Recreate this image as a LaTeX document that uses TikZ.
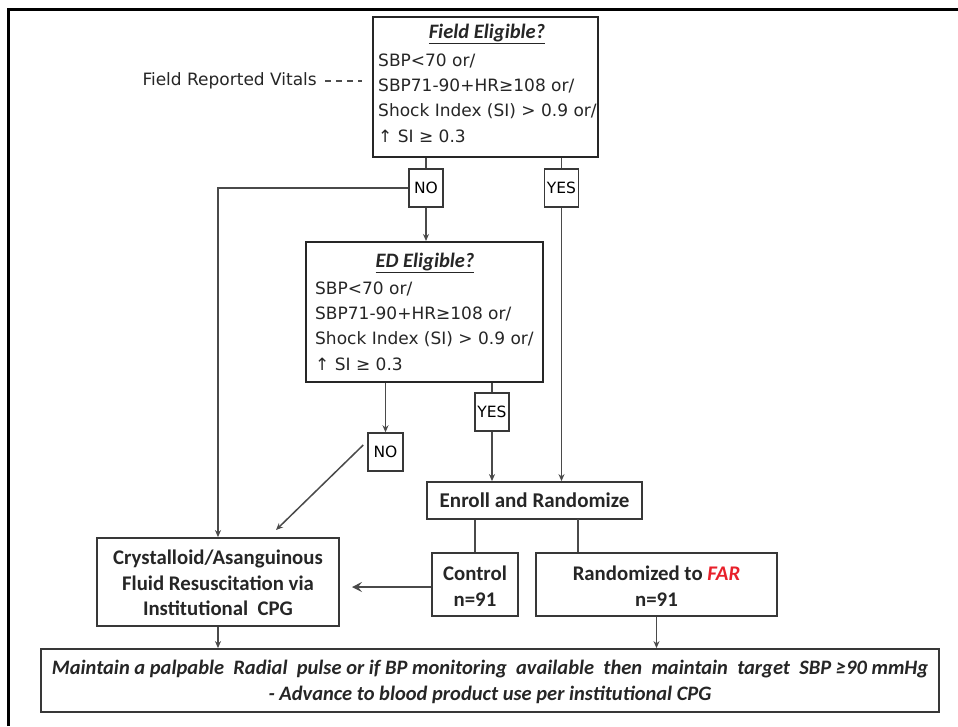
\documentclass[tikz,border=0pt]{standalone}
\usepackage{fontspec}
\setmainfont{DejaVu Sans}
\newfontfamily\calfont{Carlito}
\usetikzlibrary{arrows.meta}
\definecolor{linegray}{HTML}{4A4A4A}
\definecolor{boxgray}{HTML}{383838}
\definecolor{farred}{HTML}{E8202A}
\tikzset{
  boxnode/.style={draw=boxgray, line width=1.8pt, inner sep=0pt, anchor=center},
  lblbox/.style={draw=boxgray, line width=1.5pt, inner sep=0pt, minimum width=34pt, minimum height=38pt, font=\fontsize{15.5}{18}\selectfont},
  bodytxt/.style={inner sep=0pt, anchor=west, font=\fontsize{17}{20}\selectfont, text=black!85},
  titletxt/.style={inner sep=0pt, font=\calfont\bfseries\itshape\fontsize{20.5}{24}\selectfont, text=black!85},
  boldtxt/.style={inner sep=0pt, font=\calfont\bfseries\fontsize{20.8}{26}\selectfont, align=center, text=black!85},
  conn/.style={draw=linegray, line width=1.5pt},
  arr/.style={conn, -{Stealth[length=7pt,width=6pt]}},
}
\begin{document}
\begin{tikzpicture}[x=1pt,y=-1pt]
\useasboundingbox (0,0) rectangle (958,726);
\fill[white] (0,0) rectangle (958,726);
% partial frame
\draw[line width=3pt, black] (8,726) -- (8,9) -- (958,9);

% Field eligible box
\node[boxnode, draw=black!85, line width=2pt, minimum width=225pt, minimum height=140pt] (field) at (485.5,87) {};
\node[titletxt] (ftitle) at (487,34) {\underline{Field Eligible?}};
\node[bodytxt] (f1) at (378,61) {SBP<70 or/};
\node[bodytxt] (f2) at (378,86) {SBP71-90+HR≥108 or/};
\node[bodytxt] (f3) at (378,111) {Shock Index (SI) > 0.9 or/};
\node[bodytxt] (f4) at (378,136) {↑ SI ≥ 0.3};

% Field reported vitals
\node[bodytxt, anchor=east] (frv) at (317,81) {Field Reported Vitals};
\coordinate (frvend) at (362,81);
\draw[line width=1.6pt, black!70, dash pattern=on 6pt off 5pt] (frv.east) ++(8pt,0) -- (frvend);

% NO / YES boxes (first level)
\node[lblbox] (no1) at (426,188) {NO};
\node[lblbox] (yes1) at (561.5,188) {YES};

% ED eligible box
\node[boxnode, draw=black!85, line width=2pt, minimum width=237pt, minimum height=140pt] (ed) at (424.5,312) {};
\node[titletxt] (etitle) at (425,263) {\underline{ED Eligible?}};
\node[bodytxt] (e1) at (315,289) {SBP<70 or/};
\node[bodytxt] (e2) at (315,314) {SBP71-90+HR≥108 or/};
\node[bodytxt] (e3) at (315,339) {Shock Index (SI) > 0.9 or/};
\node[bodytxt] (e4) at (315,364) {↑ SI ≥ 0.3};

% second level labels
\node[lblbox, minimum width=35pt] (no2) at (385.5,452) {NO};
\node[lblbox] (yes2) at (492,412) {YES};

% Enroll
\node[boxnode, minimum width=215pt, minimum height=37pt, font=\calfont\bfseries\fontsize{21}{24}\selectfont, text=black!85] (enroll) at (534.5,500.5) {Enroll and Randomize};

% Control & Randomized
\node[boxnode, minimum width=86pt, minimum height=63pt] (control) at (475,584.5) {};
\node[boldtxt] (ctext) at (475,586) {Control\\n=91};
\node[boxnode, minimum width=241pt, minimum height=63pt] (rand) at (656.5,584.5) {};
\node[boldtxt] (rtext) at (656.5,586) {Randomized to {\itshape\color{farred}FAR}\\n=91};

% Crystalloid box
\node[boxnode, minimum width=242pt, minimum height=88pt] (cryst) at (218,582) {};
\node[boldtxt, font=\calfont\bfseries\fontsize{20.8}{25.5}\selectfont] (cxtext) at (218,583) {Crystalloid/Asanguinous\\Fluid Resuscitation via\\Institutional\ \ CPG};

% Bottom box
\node[boxnode, minimum width=898pt, minimum height=63pt] (bottom) at (490,680.5) {};
\node[boldtxt, font=\calfont\bfseries\itshape\fontsize{20.5}{26}\selectfont] (btext) at (490,682) {Maintain a palpable\ \ Radial\ \ pulse or if BP monitoring\ \ available\ \ then\ \ maintain\ \ target\ \ SBP ≥90 mmHg\\- Advance to blood product use per institutional CPG};

% connectors
\draw[conn] (no1.north |- field.south) -- (no1.north);
\draw[conn] (yes1.north |- field.south) -- (yes1.north);
\draw[arr] (no1.south) -- (no1.south |- ed.north);
\coordinate (leftcorner) at (218,188);
\draw[arr] (no1.west) -- (leftcorner) -- (leftcorner |- cryst.north);
\draw[arr] (yes1.south) -- (yes1.south |- enroll.north);
\draw[arr] (no2.north |- ed.south) -- (no2.north);
\draw[conn] (yes2.north |- ed.south) -- (yes2.north);
\draw[arr] (yes2.south) -- (yes2.south |- enroll.north);
\coordinate (diagend) at (276,530);
\draw[arr] ([xshift=-4pt,yshift=7pt]no2.west) -- (diagend);
\draw[conn] (control.north |- enroll.south) -- (control.north);
\draw[conn] (578,519) coordinate (rtop) -- (rtop |- rand.north);
\coordinate (cxarrow) at (352,587);
\draw[conn, line width=2.6pt, -{Stealth[length=10pt,width=10pt,inset=4pt]}] (control.west |- cxarrow) -- (cxarrow);
\draw[arr] (cryst.south) -- (cryst.south |- bottom.north);
\draw[arr] (rand.south) -- (rand.south |- bottom.north);
\end{tikzpicture}
\end{document}
